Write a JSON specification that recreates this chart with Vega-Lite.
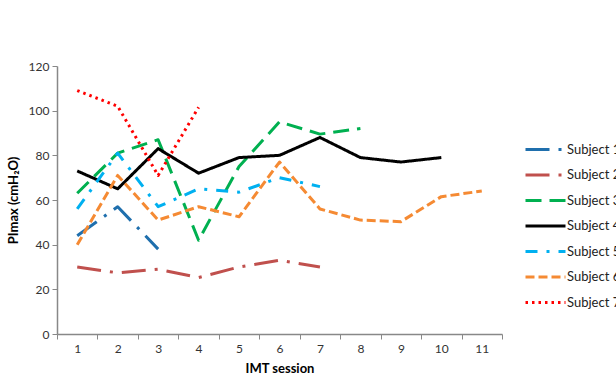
{
  "$schema": "https://vega.github.io/schema/vega-lite/v6.json",
  "width": 445,
  "height": 268,
  "autosize": {"type": "none"},
  "padding": {"left": 57, "top": 66, "right": 114, "bottom": 44},
  "background": "white",
  "config": {"view": {"stroke": null}, "font": "Lato"},
  "data": {"values": [
    {"subject": "Subject 1", "session": 1, "value": 44},
    {"subject": "Subject 1", "session": 2, "value": 57},
    {"subject": "Subject 1", "session": 3, "value": 38},
    {"subject": "Subject 2", "session": 1, "value": 30},
    {"subject": "Subject 2", "session": 2, "value": 27.4},
    {"subject": "Subject 2", "session": 3, "value": 29},
    {"subject": "Subject 2", "session": 4, "value": 25.3},
    {"subject": "Subject 2", "session": 5, "value": 30},
    {"subject": "Subject 2", "session": 6, "value": 33},
    {"subject": "Subject 2", "session": 7, "value": 30},
    {"subject": "Subject 3", "session": 1, "value": 63},
    {"subject": "Subject 3", "session": 2, "value": 81},
    {"subject": "Subject 3", "session": 3, "value": 87},
    {"subject": "Subject 3", "session": 4, "value": 42},
    {"subject": "Subject 3", "session": 5, "value": 75},
    {"subject": "Subject 3", "session": 6, "value": 95},
    {"subject": "Subject 3", "session": 7, "value": 89.5},
    {"subject": "Subject 3", "session": 8, "value": 92},
    {"subject": "Subject 4", "session": 1, "value": 73},
    {"subject": "Subject 4", "session": 2, "value": 65},
    {"subject": "Subject 4", "session": 3, "value": 83},
    {"subject": "Subject 4", "session": 4, "value": 72},
    {"subject": "Subject 4", "session": 5, "value": 79},
    {"subject": "Subject 4", "session": 6, "value": 80},
    {"subject": "Subject 4", "session": 7, "value": 88},
    {"subject": "Subject 4", "session": 8, "value": 79},
    {"subject": "Subject 4", "session": 9, "value": 77},
    {"subject": "Subject 4", "session": 10, "value": 79},
    {"subject": "Subject 5", "session": 1, "value": 56},
    {"subject": "Subject 5", "session": 2, "value": 81},
    {"subject": "Subject 5", "session": 3, "value": 57},
    {"subject": "Subject 5", "session": 4, "value": 65},
    {"subject": "Subject 5", "session": 5, "value": 63.5},
    {"subject": "Subject 5", "session": 6, "value": 70},
    {"subject": "Subject 5", "session": 7, "value": 66},
    {"subject": "Subject 6", "session": 1, "value": 40},
    {"subject": "Subject 6", "session": 2, "value": 71},
    {"subject": "Subject 6", "session": 3, "value": 51},
    {"subject": "Subject 6", "session": 4, "value": 57},
    {"subject": "Subject 6", "session": 5, "value": 52.5},
    {"subject": "Subject 6", "session": 6, "value": 77},
    {"subject": "Subject 6", "session": 7, "value": 56},
    {"subject": "Subject 6", "session": 8, "value": 51},
    {"subject": "Subject 6", "session": 9, "value": 50.3},
    {"subject": "Subject 6", "session": 10, "value": 61.5},
    {"subject": "Subject 6", "session": 11, "value": 64},
    {"subject": "Subject 7", "session": 1, "value": 109},
    {"subject": "Subject 7", "session": 2, "value": 102},
    {"subject": "Subject 7", "session": 3, "value": 71},
    {"subject": "Subject 7", "session": 4, "value": 101.5}
  ]},
  "mark": {"type": "line", "strokeWidth": 3, "strokeJoin": "round"},
  "encoding": {
    "x": {
      "field": "session", "type": "ordinal", "bandPosition": 0.5,
      "scale": {"type": "band", "domain": [1,2,3,4,5,6,7,8,9,10,11], "paddingInner": 0, "paddingOuter": 0},
      "axis": {
        "title": "IMT session", "titleFontSize": 13, "titleFontWeight": "bold", "titleColor": "#000000", "titlePadding": 8,
        "labelAngle": 0, "labelFontSize": 12, "labelColor": "#333333", "labelPadding": 4,
        "tickBand": "extent", "domainColor": "#888888", "domainWidth": 1.5, "tickColor": "#888888", "tickWidth": 1, "tickSize": 5, "grid": false
      }
    },
    "y": {
      "field": "value", "type": "quantitative",
      "scale": {"domain": [0, 120], "nice": false},
      "axis": {
        "title": "PImax (cmH₂O)", "titleFontSize": 13, "titleFontWeight": "bold", "titleColor": "#000000", "titlePadding": 8,
        "values": [0,20,40,60,80,100,120], "labelFontSize": 12, "labelColor": "#333333", "labelPadding": 3,
        "domainColor": "#888888", "domainWidth": 1.5, "tickColor": "#888888", "tickWidth": 1, "tickSize": 5, "grid": false
      }
    },
    "color": {
      "field": "subject", "type": "nominal",
      "scale": {
        "domain": ["Subject 1","Subject 2","Subject 3","Subject 4","Subject 5","Subject 6","Subject 7"],
        "range": ["#1F6FAD","#C0504D","#00B050","#000000","#00B0F0","#F58A33","#FF0000"]
      },
      "legend": {
        "title": null, "orient": "none", "legendX": 477, "legendY": 72,
        "symbolType": "M-2,0H2", "symbolSize": 400, "symbolStrokeWidth": 3, "symbolFillColor": "transparent",
        "labelFontSize": 13, "labelColor": "#222222", "labelOffset": 10, "rowPadding": 6.5
      }
    },
    "strokeDash": {
      "field": "subject", "type": "nominal",
      "scale": {
        "domain": ["Subject 1","Subject 2","Subject 3","Subject 4","Subject 5","Subject 6","Subject 7"],
        "range": [[24,9,3,9],[24,9,3,9],[16,8],[1,0],[12,9,3,9],[9,4],[2.5,4]]
      },
      "legend": {
        "title": null, "orient": "none", "legendX": 477, "legendY": 72,
        "symbolType": "M-2,0H2", "symbolSize": 400, "symbolStrokeWidth": 3, "symbolFillColor": "transparent",
        "labelFontSize": 13, "labelColor": "#222222", "labelOffset": 10, "rowPadding": 6.5
      }
    }
  }
}
